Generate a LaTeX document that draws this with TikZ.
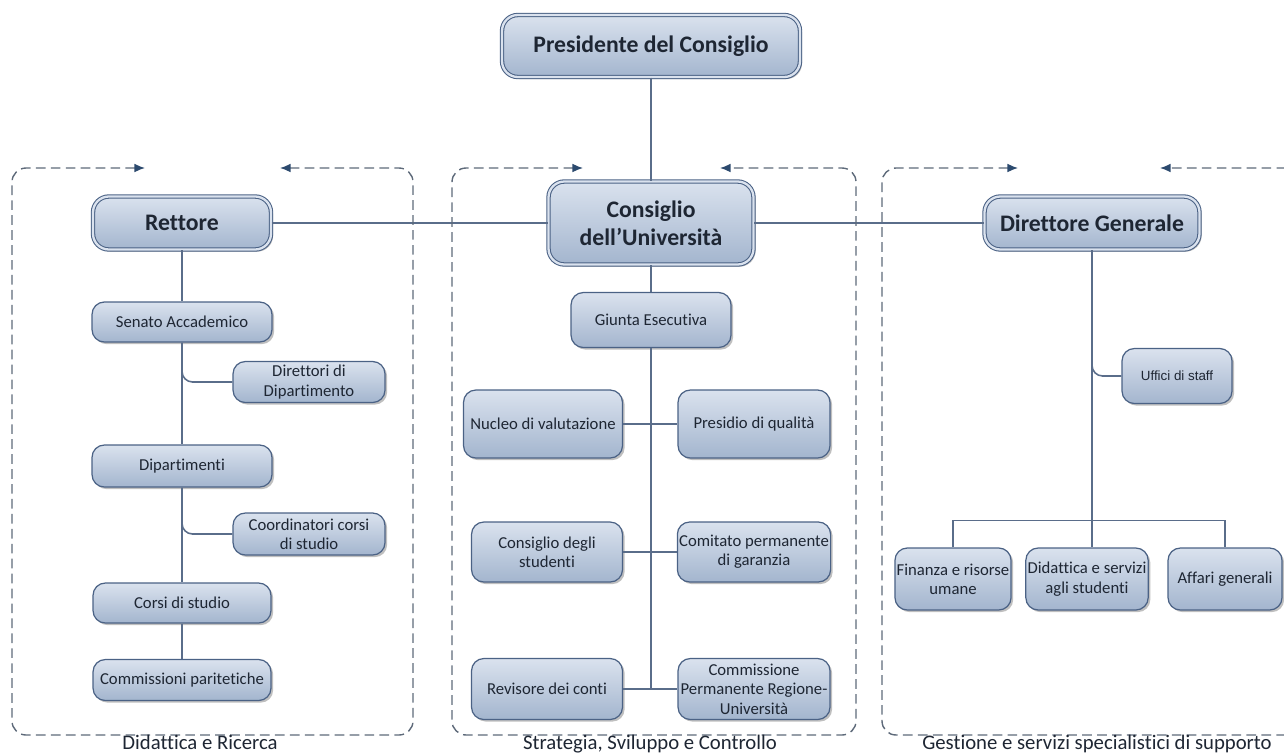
\documentclass[tikz,border=0pt]{standalone}
\usepackage{fontspec}
\setmainfont{Carlito}[Ligatures={TeX,NoCommon}]
\newfontfamily\arialfont{Liberation Sans}
\usepackage{tikz}
\usetikzlibrary{shadows,arrows.meta}
\definecolor{boxtop}{HTML}{DAE2EE}
\definecolor{boxbot}{HTML}{A3B5CE}
\definecolor{boxline}{HTML}{4B6285}
\definecolor{linkline}{HTML}{5A6D8A}
\definecolor{frameline}{HTML}{5E6A7A}
\definecolor{arrowblue}{HTML}{2C4A6E}
\definecolor{txt}{HTML}{1E2633}
\tikzstyle{unit} = [draw=boxline, line width=0.7pt, rounded corners=7pt, top color=boxtop, bottom color=boxbot, text=txt, align=center, inner sep=1pt, font=\fontsize{9.5}{11}\selectfont, drop shadow={shadow xshift=1.2pt, shadow yshift=-1.2pt, fill=black, opacity=0.25}]
\tikzstyle{organ} = [unit, double=boxtop, double distance=1.3pt, line width=0.6pt, rounded corners=9pt, font=\bfseries\fontsize{13.5}{16}\selectfont]
\tikzstyle{link} = [draw=linkline, line width=0.9pt]
\tikzstyle{frame} = [draw=frameline, dash pattern=on 5.5pt off 3pt, line width=0.8pt, rounded corners=8pt, {Latex[length=6pt,width=5pt,color=arrowblue]}-{Latex[length=6pt,width=5pt,color=arrowblue]}]
\tikzstyle{caption} = [text=txt, anchor=base, inner sep=0pt, font=\fontsize{11.8}{14}\selectfont]

\begin{document}
\begin{tikzpicture}[x=0.02cm, y=-0.02cm]
		\clip (0,0) rectangle (1284,754);
		
		\node[organ, minimum width=5.96cm, minimum height=1.24cm] (pres) at (651,46) {Presidente del Consiglio};
		\node[organ, minimum width=3.56cm, minimum height=1.06cm] (rett) at (182,223) {Rettore};
		\node[organ, minimum width=4.1cm, minimum height=1.66cm, font=\bfseries\fontsize{13.5}{16}\selectfont] (cons) at (651,223) {Consiglio\\dell'Università};
		\node[organ, minimum width=4.3cm, minimum height=1.06cm] (dir) at (1092,223) {Direttore Generale};
		
		\node[unit, minimum width=3.6cm, minimum height=0.8cm] (sen) at (182,322) {Senato Accademico};
		\node[unit, minimum width=3.04cm, minimum height=0.82cm] (ddip) at (309,382) {Direttori di\\Dipartimento};
		\node[unit, minimum width=3.6cm, minimum height=0.84cm] (dip) at (182,466) {Dipartimenti};
		\node[unit, minimum width=3.04cm, minimum height=0.84cm] (coord) at (309,534) {Coordinatori corsi\\di studio};
		\node[unit, minimum width=3.56cm, minimum height=0.8cm] (cds) at (182,603) {Corsi di studio};
		\node[unit, minimum width=3.56cm, minimum height=0.82cm] (cpar) at (182,680) {Commissioni paritetiche};
		
		\node[unit, minimum width=3.2cm, minimum height=1.1cm] (giunta) at (651,320) {Giunta Esecutiva};
		\node[unit, minimum width=3.18cm, minimum height=1.36cm] (nucleo) at (543,424) {Nucleo di valutazione};
		\node[unit, minimum width=3.04cm, minimum height=1.36cm] (presq) at (754,424) {Presidio di qualità};
		\node[unit, minimum width=3.02cm, minimum height=1.2cm] (cstud) at (547,552) {Consiglio degli\\studenti};
		\node[unit, minimum width=3.04cm, minimum height=1.2cm] (cperm) at (754,552) {Comitato permanente\\di garanzia};
		\node[unit, minimum width=3.02cm, minimum height=1.22cm] (rev) at (547,689) {Revisore dei conti};
		\node[unit, minimum width=3.04cm, minimum height=1.22cm] (crui) at (754,689) {Commissione\\Permanente Regione-\\Università};
		
		\node[unit, minimum width=2.2cm, minimum height=1.1cm, font=\arialfont\fontsize{7.6}{9}\selectfont] (uff) at (1177,376) {Uffici di staff};
		\node[unit, minimum width=2.28cm, minimum height=1.24cm] (fin) at (953,579) {Finanza e risorse\\umane};
		\node[unit, minimum width=2.4cm, minimum height=1.24cm] (did) at (1087,579) {Didattica e servizi\\agli studenti};
		\node[unit, minimum width=2.28cm, minimum height=1.24cm] (aff) at (1225,579) {Affari generali};
		
		\draw[link] (pres) -- (cons);
		\draw[link] (rett) -- (cons);
		\draw[link] (cons) -- (dir);
		
		\draw[link] (rett) -- (sen) -- (dip) -- (cds) -- (cpar);
		\draw[link, rounded corners=6pt] (sen.south) |- (ddip.west);
		\draw[link, rounded corners=6pt] (dip.south) |- (coord.west);
		
		\coordinate (mend) at (giunta.south |- rev.east);
		\draw[link] (cons) -- (giunta);
		\draw[link] (giunta) -- (mend);
		\draw[link] (nucleo) -- (presq);
		\draw[link] (cstud) -- (cperm);
		\draw[link] (rev) -- (crui);
		
		\draw[link] (dir.south) -- (dir.south |- did.north);
		\draw[link, rounded corners=6pt] (dir.south) |- (uff.west);
		\draw[link] (fin.north) -- ++(0,-27) -| (aff.north);
		
		\draw[frame] (145,168) -- (12,168) -- (12,735) -- (413,735) -- (413,168) -- (280,168);
		\draw[frame] (583,168) -- (452,168) -- (452,735) -- (856,735) -- (856,168) -- (720,168);
		\draw[frame] (1018,168) -- (882,168) -- (882,735) -- (1310,735) -- (1310,168) -- (1160,168);
		
		\node[caption] (lab1) at (200,749) {Didattica e Ricerca};
		\node[caption] (lab2) at (650,749) {Strategia, Sviluppo e Controllo};
		\node[caption] (lab3) at (1097,749) {Gestione e servizi specialistici di supporto};
	\end{tikzpicture}
\end{document}
